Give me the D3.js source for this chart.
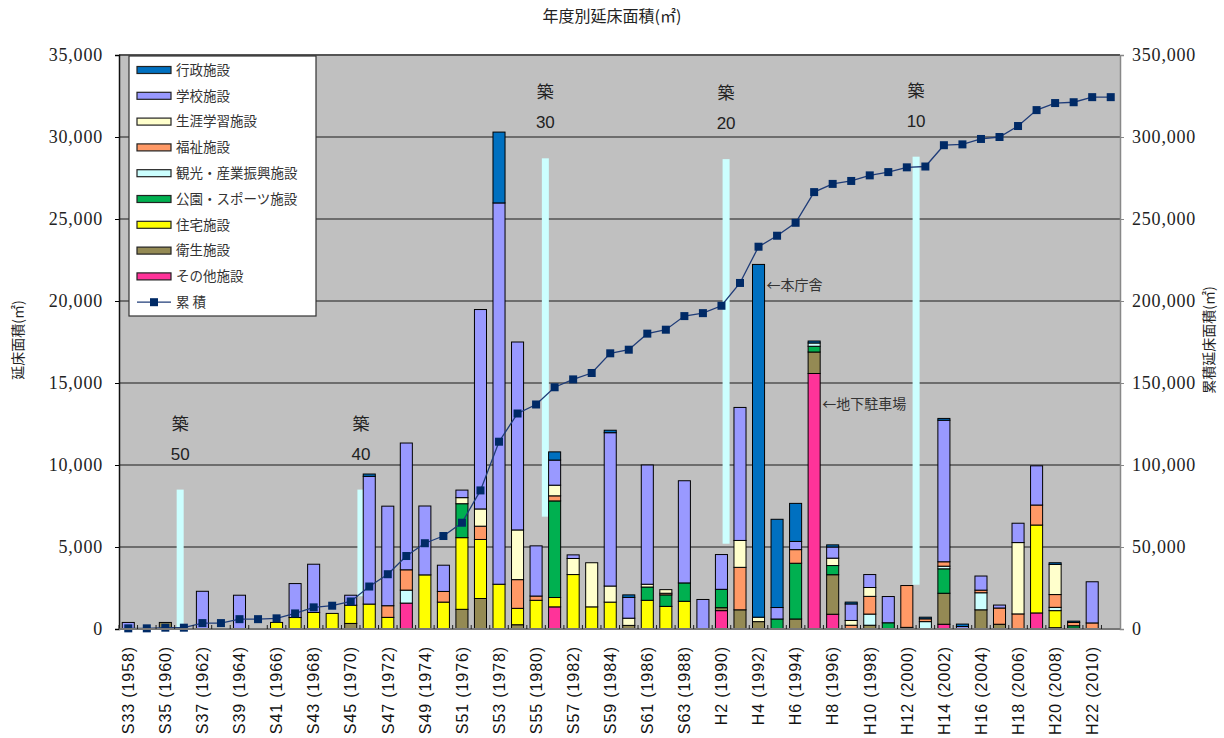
<!DOCTYPE html>
<html>
<head>
<meta charset="utf-8">
<script src="https://cdn.jsdelivr.net/npm/d3@7"></script>
<style>
body { margin: 0; background: #fff; }
</style>
</head>
<body>
<svg id="chart" width="1224" height="738"></svg>
<script>
const years = [1958, 1959,
  1960, 1961, 1962, 1963, 1964, 1965, 1966, 1967, 1968, 1969,
  1970, 1971, 1972, 1973, 1974, 1975, 1976, 1977, 1978, 1979,
  1980, 1981, 1982, 1983, 1984, 1985, 1986, 1987, 1988, 1989,
  1990, 1991, 1992, 1993, 1994, 1995, 1996, 1997, 1998, 1999,
  2000, 2001, 2002, 2003, 2004, 2005, 2006, 2007, 2008, 2009,
  2010, 2011]

// stacked from the bottom up
const categories = ['その他施設', '衛生施設', '住宅施設', '公園・スポーツ施設', '観光・産業振興施設', '福祉施設', '生涯学習施設', '学校施設', '行政施設']
const colors = ['#ff3399', '#948a54', '#ffff00', '#00b050', '#ccffff', '#ff9966', '#ffffcc', '#9999ff', '#0070c0']

const sonota = [0, 0,
  0, 0, 0, 0, 0, 0, 0, 0, 0, 0,
  0, 0, 0, 1580, 0, 0, 0, 0, 0, 0,
  0, 1350, 0, 0, 0, 0, 0, 0, 0, 0,
  1120, 0, 0, 0, 0, 15580, 900, 0, 0, 0,
  0, 0, 290, 0, 0, 0, 0, 980, 0, 0,
  0, 0]
const eisei = [0, 0,
  400, 0, 0, 0, 0, 0, 0, 0, 0, 0,
  340, 0, 0, 0, 0, 0, 1200, 1860, 0, 260,
  0, 0, 0, 0, 0, 220, 0, 0, 0, 0,
  180, 1170, 450, 0, 610, 1310, 2410, 0, 230, 0,
  100, 0, 1890, 0, 1170, 290, 0, 0, 80, 50,
  0, 0]
const jutaku = [0, 0,
  0, 0, 0, 0, 0, 0, 400, 700, 1010, 950,
  1110, 1520, 710, 0, 3300, 1640, 4370, 3600, 2730, 1000,
  1750, 570, 3320, 1350, 1640, 0, 1750, 1380, 1690, 0,
  0, 0, 0, 0, 0, 0, 0, 0, 0, 0,
  0, 0, 0, 0, 0, 0, 0, 5360, 1040, 0,
  0, 0]
const koen = [0, 0,
  0, 0, 0, 0, 0, 0, 0, 0, 0, 0,
  0, 0, 0, 0, 0, 0, 2070, 0, 0, 0,
  0, 5890, 0, 0, 0, 0, 810, 700, 1120, 0,
  1120, 0, 0, 610, 3400, 350, 560, 0, 0, 380,
  0, 0, 1490, 0, 0, 0, 0, 0, 0, 150,
  0, 0]
const kanko = [0, 0,
  0, 0, 0, 0, 0, 0, 0, 0, 0, 0,
  0, 0, 0, 790, 0, 0, 0, 0, 0, 0,
  0, 0, 0, 0, 0, 0, 0, 0, 0, 0,
  0, 0, 0, 0, 0, 200, 0, 0, 680, 0,
  0, 450, 160, 0, 1040, 0, 0, 0, 200, 0,
  0, 0]
const fukushi = [0, 0,
  0, 0, 0, 0, 0, 0, 0, 0, 0, 0,
  0, 0, 710, 1240, 0, 650, 0, 810, 0, 1750,
  260, 310, 0, 0, 0, 0, 0, 100, 0, 0,
  0, 2590, 0, 0, 830, 0, 0, 230, 1080, 0,
  2550, 170, 270, 0, 160, 990, 920, 1220, 780, 200,
  370, 0]
const shogai = [0, 0,
  0, 0, 0, 0, 0, 0, 0, 0, 0, 0,
  0, 0, 0, 0, 0, 0, 370, 1050, 0, 3030,
  0, 650, 980, 2690, 980, 440, 170, 220, 0, 0,
  0, 1640, 270, 0, 0, 0, 450, 290, 540, 0,
  0, 0, 0, 0, 0, 0, 4350, 0, 1840, 0,
  0, 0]
const gakko = [400, 0,
  0, 0, 2300, 0, 2060, 0, 0, 2070, 2940, 0,
  610, 7790, 6070, 7730, 4200, 1600, 460, 12160, 23250, 11460,
  3060, 1530, 220, 0, 9350, 1270, 7270, 0, 6230, 1800,
  2120, 8110, 0, 700, 500, 0, 680, 1010, 790, 1600,
  0, 0, 8630, 150, 860, 180, 1180, 2390, 0, 0,
  2510, 0]
const gyosei = [0, 0,
  0, 0, 0, 0, 0, 0, 0, 0, 0, 0,
  0, 140, 0, 0, 0, 0, 0, 0, 4320, 0,
  0, 500, 0, 0, 150, 150, 0, 0, 0, 0,
  0, 0, 21510, 5380, 2320, 120, 130, 110, 0, 0,
  0, 100, 110, 150, 0, 0, 0, 0, 100, 80,
  0, 0]

const cumulative = [400, 400,
  800, 800, 3600, 3600, 6000, 6000, 6500, 9500, 13200, 14200,
  16800, 25900, 33400, 44500, 52300, 56700, 64800, 84500, 114200, 131400,
  136900, 147400, 152200, 156100, 168100, 170300, 180100, 182500, 190800, 192600,
  197100, 211000, 233100, 239800, 247700, 266400, 271400, 273200, 276600, 278600,
  281500, 282000, 295000, 295500, 298800, 300000, 306700, 316400, 320700, 321200,
  324300, 324300]

const tickYears = [1958, 1960, 1962, 1964, 1966, 1968, 1970, 1972, 1974, 1976, 1978, 1980, 1982, 1984, 1986, 1988, 1990, 1992, 1994, 1996, 1998, 2000, 2002, 2004, 2006, 2008, 2010]
const tickLabels = ['S33 (1958)', 'S35 (1960)', 'S37 (1962)', 'S39 (1964)', 'S41 (1966)', 'S43 (1968)', 'S45 (1970)', 'S47 (1972)', 'S49 (1974)', 'S51 (1976)', 'S53 (1978)', 'S55 (1980)', 'S57 (1982)', 'S59 (1984)', 'S61 (1986)', 'S63 (1988)', 'H2 (1990)', 'H4 (1992)', 'H6 (1994)', 'H8 (1996)', 'H10 (1998)', 'H12 (2000)', 'H14 (2002)', 'H16 (2004)', 'H18 (2006)', 'H20 (2008)', 'H22 (2010)']

// building-age markers (築) : position in years, top / bottom in m2 of the left axis
const chikuLabels = ['50', '40', '30', '20', '10']
const chikuPos = [1961.3, 1971.05, 1981, 1990.75, 2001]
const chikuTop = [8500, 8500, 28700, 28650, 28800]
const chikuBottom = [0, 2000, 6850, 5200, 2700]

const noteYears = [1992, 1995]
const noteValues = [21000, 13700]
const noteTexts = ['←本庁舎', '←地下駐車場']

const seriesData = [sonota, eisei, jutaku, koen, kanko, fukushi, shogai, gakko, gyosei]

const plotLeft = 119
const plotRight = 1120
const plotTop = 55
const plotBottom = 629
const jp = '"Noto Sans CJK JP", sans-serif'
const serif = '"Liberation Serif", "DejaVu Serif", serif'

const svg = d3.select('#chart')

const xScale = d3.scaleBand().domain(years).range([plotLeft, plotRight]).paddingInner(0.35).paddingOuter(0.175)
const yScale = d3.scaleLinear().domain([0, 35000]).range([plotBottom, plotTop])
const y2Scale = d3.scaleLinear().domain([0, 350000]).range([plotBottom, plotTop])
// continuous year position (band edge at integer year)
const xPos = d3.scaleLinear().domain([1958, 2012]).range([plotLeft, plotRight])

const createPlotArea = () => {
  svg.append('rect')
    .attr('x', plotLeft).attr('y', plotTop)
    .attr('width', plotRight - plotLeft).attr('height', plotBottom - plotTop)
    .attr('fill', '#c0c0c0')

  svg.append('g')
    .selectAll('line')
    .data(yScale.ticks(7).filter(d => d > 0 && d < 35000))
    .enter()
    .append('line')
    .attr('x1', plotLeft).attr('x2', plotRight)
    .attr('y1', d => yScale(d)).attr('y2', d => yScale(d))
    .attr('stroke', '#1a1a1a')
    .attr('stroke-width', 1.2)

  svg.append('line')
    .attr('x1', plotLeft).attr('x2', plotRight)
    .attr('y1', plotTop).attr('y2', plotTop)
    .attr('stroke', '#555').attr('stroke-width', 2)
}

const createAxes = () => {
  const yAxis = d3.axisLeft(yScale).ticks(7).tickSize(4).tickFormat(d3.format(','))
  const gy = svg.append('g')
    .attr('transform', `translate(${plotLeft},0)`)
    .call(yAxis)
  gy.select('.domain').attr('stroke', '#111').attr('stroke-width', 1.5)
  gy.selectAll('text')
    .attr('x', -16)
    .style('font-family', serif)
    .style('font-size', '18px')
    .style('letter-spacing', '0.8px')
    .attr('fill', '#222')

  const y2Axis = d3.axisRight(y2Scale).ticks(7).tickSize(4).tickFormat(d3.format(','))
  const gy2 = svg.append('g')
    .attr('transform', `translate(${plotRight},0)`)
    .call(y2Axis)
  gy2.select('.domain').attr('stroke', '#888').attr('stroke-width', 1.5)
  gy2.selectAll('line').attr('stroke', '#888')
  gy2.selectAll('text')
    .attr('x', 12)
    .style('font-family', serif)
    .style('font-size', '18px')
    .style('letter-spacing', '0.8px')
    .attr('fill', '#222')

  // category axis: baseline, ticks between bars, rotated labels
  svg.append('line')
    .attr('x1', plotLeft).attr('x2', plotRight)
    .attr('y1', plotBottom).attr('y2', plotBottom)
    .attr('stroke', '#777').attr('stroke-width', 2)

  svg.append('g')
    .selectAll('line')
    .data(years)
    .enter()
    .append('line')
    .attr('x1', d => xPos(d)).attr('x2', d => xPos(d))
    .attr('y1', plotBottom - 4).attr('y2', plotBottom)
    .attr('stroke', '#222')

  svg.append('g')
    .selectAll('text')
    .data(tickYears)
    .enter()
    .append('text')
    .attr('transform', d => `translate(${xScale(d) + xScale.bandwidth() / 2},${plotBottom + 17}) rotate(-90)`)
    .attr('dy', '0.36em')
    .attr('text-anchor', 'end')
    .style('font-family', '"Liberation Sans", sans-serif')
    .style('font-size', '16px')
    .style('letter-spacing', '0.9px')
    .attr('fill', '#111')
    .text((d, i) => tickLabels[i])
}

const createBars = () => {
  const rows = years.map((y, i) => {
    const row = {year: y}
    categories.forEach((c, k) => { row[c] = seriesData[k][i] })
    return row
  })
  const stacked = d3.stack().keys(categories)(rows)

  svg.append('g')
    .selectAll('g')
    .data(stacked)
    .enter()
    .append('g')
    .attr('fill', (d, i) => colors[i])
    .selectAll('rect')
    .data(d => d.filter(s => s[1] - s[0] > 0))
    .enter()
    .append('rect')
    .attr('x', d => xScale(d.data.year))
    .attr('width', xScale.bandwidth())
    .attr('y', d => yScale(d[1]))
    .attr('height', d => yScale(d[0]) - yScale(d[1]))
    .attr('stroke', '#000')
    .attr('stroke-width', 1)
}

const createChiku = () => {
  const g = svg.append('g')
  chikuPos.forEach((p, i) => {
    const cx = xPos(p)
    g.append('rect')
      .attr('x', cx - 3.5)
      .attr('width', 7)
      .attr('y', yScale(chikuTop[i]))
      .attr('height', yScale(chikuBottom[i]) - yScale(chikuTop[i]))
      .attr('fill', '#ccffff')
    g.append('text')
      .attr('x', cx).attr('y', yScale(chikuTop[i]) - 60)
      .attr('text-anchor', 'middle')
      .style('font-family', jp)
      .style('font-size', '17px')
      .attr('fill', '#222')
      .text('築')
    g.append('text')
      .attr('x', cx).attr('y', yScale(chikuTop[i]) - 30)
      .attr('text-anchor', 'middle')
      .style('font-family', '"Liberation Sans", sans-serif')
      .style('font-size', '17px')
      .attr('fill', '#222')
      .text(chikuLabels[i])
  })
}

const createCumulative = () => {
  const cx = d => xScale(d.year) + xScale.bandwidth() / 2
  const pts = years.map((y, i) => ({year: y, v: cumulative[i]}))
  svg.append('path')
    .datum(pts)
    .attr('fill', 'none')
    .attr('stroke', '#1f3c78')
    .attr('stroke-width', 1.3)
    .attr('d', d3.line().x(cx).y(d => y2Scale(d.v)))

  svg.append('g')
    .selectAll('rect')
    .data(pts)
    .enter()
    .append('rect')
    .attr('x', d => cx(d) - 4)
    .attr('y', d => y2Scale(d.v) - 4)
    .attr('width', 8).attr('height', 8)
    .attr('fill', '#002a66')
}

const createNotes = () => {
  svg.append('g')
    .selectAll('text')
    .data(noteYears)
    .enter()
    .append('text')
    .attr('x', d => xScale(d) + xScale.bandwidth() + 2)
    .attr('y', (d, i) => yScale(noteValues[i]))
    .attr('dy', '0.35em')
    .style('font-family', jp)
    .style('font-size', '14px')
    .attr('fill', '#333')
    .text((d, i) => noteTexts[i])
}

const createLegend = () => {
  const lx = 129
  const ly = 56
  const rowH = 25.8
  const g = svg.append('g')
  g.append('rect')
    .attr('x', lx).attr('y', ly)
    .attr('width', 187).attr('height', 260)
    .attr('fill', '#fff')
    .attr('stroke', '#333').attr('stroke-width', 1.2)

  const items = categories.map((c, i) => ({name: c, color: colors[i]})).reverse()
  items.forEach((it, i) => {
    const cy = ly + 14 + i * rowH
    g.append('rect')
      .attr('x', lx + 8).attr('y', cy - 3.5)
      .attr('width', 34).attr('height', 7)
      .attr('fill', it.color)
      .attr('stroke', '#222').attr('stroke-width', 1.2)
    g.append('text')
      .attr('x', lx + 47).attr('y', cy)
      .attr('dy', '0.35em')
      .style('font-family', jp)
      .style('font-size', '13.5px')
      .attr('fill', '#333')
      .text(it.name)
  })

  const cy = ly + 14 + items.length * rowH
  g.append('line')
    .attr('x1', lx + 8).attr('x2', lx + 42)
    .attr('y1', cy).attr('y2', cy)
    .attr('stroke', '#1f3c78').attr('stroke-width', 1.3)
  g.append('rect')
    .attr('x', lx + 21).attr('y', cy - 4)
    .attr('width', 8).attr('height', 8)
    .attr('fill', '#002a66')
  g.append('text')
    .attr('x', lx + 47).attr('y', cy)
    .attr('dy', '0.35em')
    .style('font-family', jp)
    .style('font-size', '13.5px')
    .attr('fill', '#333')
    .text('累 積')
}

const createTitles = () => {
  svg.append('text')
    .attr('x', 612).attr('y', 22)
    .attr('text-anchor', 'middle')
    .style('font-family', jp)
    .style('font-size', '16px')
    .attr('fill', '#222')
    .text('年度別延床面積(㎡)')

  svg.append('text')
    .attr('transform', 'translate(18,340) rotate(-90)')
    .attr('text-anchor', 'middle')
    .attr('dy', '0.35em')
    .style('font-family', jp)
    .style('font-size', '14px')
    .attr('fill', '#222')
    .text('延床面積(㎡)')

  svg.append('text')
    .attr('transform', 'translate(1209,340) rotate(-90)')
    .attr('text-anchor', 'middle')
    .attr('dy', '0.35em')
    .style('font-family', jp)
    .style('font-size', '14px')
    .attr('fill', '#222')
    .text('累積延床面積(㎡)')
}

createPlotArea()
createChiku()
createBars()
createCumulative()
createAxes()
createNotes()
createLegend()
createTitles()
</script>
</body>
</html>
